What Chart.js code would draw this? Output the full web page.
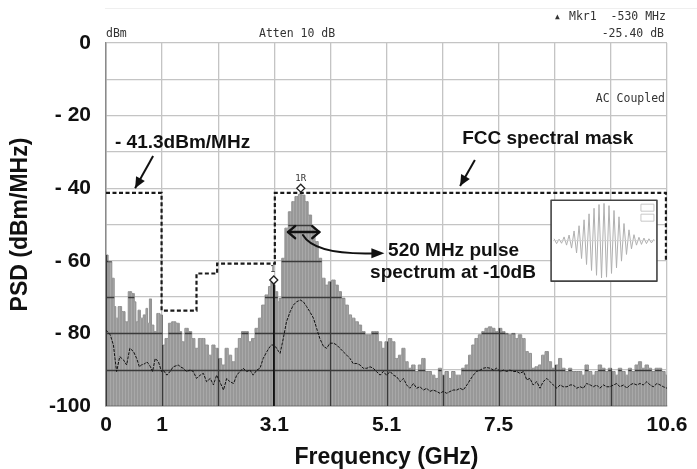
<!DOCTYPE html>
<html><head><meta charset="utf-8">
<script src="https://cdn.jsdelivr.net/npm/chart.js@4.4.1/dist/chart.umd.min.js"></script>
<style>html,body{margin:0;padding:0;background:#fff;}canvas{display:block;}</style>
</head><body>
<canvas id="c" width="697" height="469"></canvas>
<script>
// ---------- data ----------
const freqGHz = [
 0.00,0.08,0.14,0.17,0.20,0.26,0.33,0.39,0.45,0.52,0.55,0.58,0.63,0.67,0.74,0.77,0.80,0.84,0.88,0.93,
 0.99,1.05,1.08,1.15,1.21,1.27,1.37,1.40,1.46,1.52,1.59,1.65,1.71,1.78,1.84,1.90,1.97,2.03,2.09,2.15,
 2.22,2.28,2.34,2.41,2.47,2.53,2.59,
 2.66,2.72,2.78,2.85,2.91,2.97,3.04,3.10,3.13,3.16,3.23,3.26,3.29,3.35,3.41,3.48,3.54,3.60,3.67,3.73,
 3.79,3.85,3.92,3.98,4.04,4.11,4.17,4.23,4.30,4.36,4.42,4.48,4.55,4.61,4.67,4.74,4.80,4.86,4.93,4.99,
 5.05,5.11,5.18,5.24,
 5.30,5.37,5.43,5.49,5.56,5.62,5.68,5.74,5.81,5.87,5.93,6.00,6.06,6.12,6.18,6.25,6.31,6.37,6.44,6.50,
 6.56,6.63,6.69,6.75,6.82,6.88,6.94,7.00,7.07,7.13,7.19,7.26,7.32,7.38,7.45,7.51,7.57,7.63,7.70,7.76,
 7.82,7.89,
 7.95,8.01,8.07,8.14,8.20,8.26,8.33,8.39,8.45,8.52,8.58,8.64,8.71,8.77,8.83,8.89,8.96,9.02,9.08,9.15,
 9.21,9.27,9.33,9.40,9.46,9.52,9.59,9.65,9.71,9.78,9.84,9.90,9.96,10.03,10.09,10.15,10.22,10.28,10.34,10.41,
 10.47,10.53,10.60
];
const peakHold = [
 -58.4,-60.2,-64.8,-72.6,-75.8,-72.6,-74.0,-76.8,-68.5,-69.0,-71.3,-76.8,-73.6,-75.8,-74.9,-73.1,-77.2,-70.5,-77.7,-79.5,
 -74.5,-74.9,-83.2,-81.4,-77.2,-76.8,-77.2,-79.5,-82.3,-78.6,-79.5,-81.4,-84.1,-81.4,-81.4,-83.2,-86.0,-83.2,-84.1,-86.9,
 -88.7,-84.1,-86.0,-87.8,-84.1,-81.4,-79.5,
 -79.5,-82.3,-81.4,-78.6,-75.8,-72.2,-69.4,-67.1,-65.8,-66.7,-68.5,-71.3,-70.3,-59.3,-51.0,-46.5,-43.7,-42.3,-41.7,-41.9,
 -43.7,-47.4,-51.0,-54.7,-59.3,-64.8,-66.7,-65.8,-65.3,-66.7,-68.5,-70.3,-72.2,-74.9,-75.8,-76.8,-77.7,-79.5,-80.4,-80.4,
 -79.5,-79.5,-82.3,-84.1,
 -82.3,-81.4,-82.3,-86.9,-86.0,-84.1,-87.8,-89.6,-88.7,-90.5,-88.7,-86.9,-90.5,-90.5,-91.5,-92.4,-89.6,-91.5,-90.5,-92.4,
 -90.5,-91.5,-91.5,-89.6,-88.7,-86.0,-83.2,-81.4,-80.4,-79.5,-78.6,-78.2,-78.6,-79.5,-78.6,-79.5,-80.0,-80.4,-80.0,-81.4,
 -80.4,-81.4,
 -85.0,-85.5,-89.6,-89.2,-88.7,-86.0,-85.0,-87.8,-89.6,-88.7,-86.9,-89.6,-90.5,-89.6,-90.5,-90.5,-90.5,-91.5,-88.7,-90.5,
 -91.5,-90.5,-88.7,-89.6,-90.5,-89.6,-90.5,-91.5,-89.6,-90.5,-91.5,-89.6,-90.5,-88.7,-87.8,-89.6,-88.7,-89.6,-90.5,-89.6,
 -89.6,-90.5,-91.5
];
const averageTrace = [
 -79.1,-80.4,-83.2,-86.9,-90.5,-86.4,-87.3,-88.7,-84.1,-85.0,-86.0,-86.9,-89.2,-88.7,-88.3,-87.8,-88.3,-89.2,-90.5,-86.9,
 -87.8,-90.5,-90.1,-91.5,-90.5,-89.2,-88.7,-89.2,-89.6,-90.5,-90.1,-90.5,-92.4,-91.5,-91.0,-93.3,-92.4,-94.2,-91.5,-93.3,
 -95.6,-92.4,-93.3,-93.8,-91.5,-90.5,-89.6,
 -90.5,-90.1,-91.5,-90.1,-89.6,-86.9,-85.0,-83.6,-83.2,-83.2,-84.1,-85.0,-85.5,-81.4,-76.8,-74.0,-72.2,-71.3,-70.8,-71.3,
 -72.6,-74.0,-75.8,-78.6,-81.4,-83.6,-84.1,-82.7,-82.7,-83.2,-84.1,-85.0,-86.0,-86.9,-88.3,-88.3,-88.7,-89.6,-89.6,-89.2,
 -89.6,-90.5,-91.5,-90.5,
 -91.5,-90.5,-91.5,-91.9,-93.3,-92.4,-94.2,-95.1,-93.8,-95.1,-94.7,-95.6,-95.1,-96.0,-95.6,-96.0,-96.5,-96.0,-96.5,-96.0,
 -95.6,-95.6,-95.1,-95.6,-94.2,-92.8,-91.5,-90.5,-90.1,-89.6,-89.4,-89.6,-90.1,-89.6,-90.5,-90.1,-90.5,-90.1,-90.5,-90.5,
 -91.0,-90.5,
 -92.8,-92.4,-94.2,-93.3,-95.1,-93.3,-92.4,-93.3,-94.2,-95.1,-94.2,-94.7,-94.7,-94.2,-94.2,-95.1,-94.7,-95.1,-93.8,-94.2,
 -94.7,-94.2,-95.1,-94.2,-94.7,-94.7,-94.2,-93.8,-94.7,-94.2,-95.1,-94.2,-93.8,-94.2,-93.8,-94.2,-93.3,-94.2,-94.7,-93.8,
 -94.2,-94.7,-95.1
];
const maskFreq  = [0, 1.05, 1.71, 2.10, 3.19, 10.58];
const maskLevel = [-41.3, -73.7, -63.5, -60.8, -41.3, -60.2];
const markerFreq  = [3.68, 3.17];
const markerLevel = [-40.0, -65.3];
const markerNames = ['1R', '1'];
const xGridValues = [0, 1.06, 2.12, 3.18, 4.24, 5.30, 6.36, 7.42, 8.48, 9.54, 10.60];
const xTickLabels = ['0', '1', '', '3.1', '', '5.1', '', '7.5', '', '', '10.6'];
const yLabelValues = [0, -20, -40, -60, -80, -100];
const yLabelTexts  = ['0', '- 20', '- 40', '- 60', '- 80', '-100'];
// relative half-cycle amplitudes of the pulse in the inset picture
const insetPulse = [0.05,0.08,0.04,0.07,0.10,0.12,0.15,0.20,0.26,0.33,0.40,0.48,0.56,0.64,0.72,0.80,0.87,0.93,0.97,1.00,
 1.00,0.98,0.94,0.88,0.81,0.73,0.64,0.55,0.46,0.37,0.29,0.22,0.16,0.12,0.09,0.10,0.07,0.08,0.05,0.06,0.04];

// ---------- chart ----------
const canvas = document.getElementById('c');
const ctx0 = canvas.getContext('2d');
const pc = document.createElement('canvas'); pc.width = 3; pc.height = 4;
const pcx = pc.getContext('2d');
pcx.fillStyle = '#989898'; pcx.fillRect(0, 0, 3, 4);
pcx.fillStyle = '#a8a8a8'; pcx.fillRect(2, 0, 1, 4);
const greyPattern = ctx0.createPattern(pc, 'repeat');

const BOLD = '"Liberation Sans", Arial, sans-serif';
const MONO = '"DejaVu Sans Mono", "Liberation Mono", monospace';

const pts = (xs, ys) => xs.map((x, i) => ({x: x, y: ys[i]}));

function arrowHead(ctx, x1, y1, x2, y2, len, half) {
  const a = Math.atan2(y2 - y1, x2 - x1);
  ctx.beginPath();
  ctx.moveTo(x2, y2);
  ctx.lineTo(x2 - len * Math.cos(a) + half * Math.sin(a), y2 - len * Math.sin(a) - half * Math.cos(a));
  ctx.lineTo(x2 - len * Math.cos(a) - half * Math.sin(a), y2 - len * Math.sin(a) + half * Math.cos(a));
  ctx.closePath();
  ctx.fill();
}

const annotations = {
  id: 'annotations',
  afterDatasetDraw(chart, args) {
    if (args.index !== 0) return;
    const {ctx, chartArea: a, scales: {x, y}} = chart;
    const p = args.meta.data;
    ctx.save();
    ctx.beginPath();
    ctx.moveTo(p[0].x, a.bottom);
    ctx.lineTo(p[0].x, p[0].y);
    for (let i = 1; i < p.length; i++) {
      const m = (p[i - 1].x + p[i].x) / 2;
      ctx.lineTo(m, p[i - 1].y); ctx.lineTo(m, p[i].y); ctx.lineTo(p[i].x, p[i].y);
    }
    ctx.lineTo(p[p.length - 1].x, a.bottom);
    ctx.closePath();
    ctx.clip();
    ctx.strokeStyle = '#3a3a3a'; ctx.lineWidth = 1.3;
    x.ticks.forEach(t => {
      const px = Math.round(x.getPixelForValue(t.value)) + 0.5;
      ctx.beginPath(); ctx.moveTo(px, a.top); ctx.lineTo(px, a.bottom); ctx.stroke();
    });
    y.ticks.forEach(t => {
      const py = Math.round(y.getPixelForValue(t.value)) + 0.5;
      ctx.beginPath(); ctx.moveTo(a.left, py); ctx.lineTo(a.right, py); ctx.stroke();
    });
    ctx.restore();
  },
  afterDatasetsDraw(chart) {
    const {ctx, chartArea: a, scales: {x, y}} = chart;
    const X = v => x.getPixelForValue(v), Y = v => y.getPixelForValue(v);
    ctx.save();
    // marker names
    ctx.fillStyle = '#333'; ctx.font = '9px ' + MONO; ctx.textAlign = 'center'; ctx.textBaseline = 'middle';
    markerNames.forEach((n, i) => ctx.fillText(n, X(markerFreq[i]) - (i ? 1 : 0), Y(markerLevel[i]) - 10));

    // big bold annotation text
    ctx.fillStyle = '#111'; ctx.font = 'bold 19px ' + BOLD; ctx.textAlign = 'left';
    ctx.fillText('- 41.3dBm/MHz', X(0.17), Y(-27.5));
    ctx.fillText('FCC spectral mask', X(6.73), Y(-26.3));
    ctx.fillText('520 MHz pulse', X(5.33), Y(-57.2));
    ctx.fillText('spectrum at -10dB', X(4.99), Y(-63.4));

    // straight arrows
    ctx.strokeStyle = '#111'; ctx.lineWidth = 2;
    [[0.89, -31.1, 0.55, -40.0], [6.97, -32.2, 6.69, -39.4]].forEach(([f1, v1, f2, v2]) => {
      const x1 = X(f1), y1 = Y(v1), x2 = X(f2), y2 = Y(v2);
      ctx.beginPath(); ctx.moveTo(x1, y1); ctx.lineTo(x2, y2); ctx.stroke();
      arrowHead(ctx, x1, y1, x2, y2, 11, 5);
    });

    // double-headed bandwidth arrow
    const bx1 = X(3.44), bx2 = X(4.03), by = Y(-52.1);
    ctx.lineWidth = 2.5; ctx.lineCap = 'round'; ctx.lineJoin = 'round';
    ctx.beginPath(); ctx.moveTo(bx1, by); ctx.lineTo(bx2, by); ctx.stroke();
    ctx.beginPath(); ctx.moveTo(bx1 + 7, by - 6); ctx.lineTo(bx1, by); ctx.lineTo(bx1 + 7, by + 6); ctx.stroke();
    ctx.beginPath(); ctx.moveTo(bx2 - 7, by - 6); ctx.lineTo(bx2, by); ctx.lineTo(bx2 - 7, by + 6); ctx.stroke();

    // curved arrow to the text
    const c0x = X(3.72), c0y = Y(-52.9), ccx = X(3.95), ccy = Y(-58.6), c1x = X(5.26), c1y = Y(-57.9);
    ctx.lineWidth = 2;
    ctx.beginPath(); ctx.moveTo(c0x, c0y); ctx.quadraticCurveTo(ccx, ccy, c1x - 6, c1y); ctx.stroke();
    arrowHead(ctx, c1x - 20, c1y, c1x, c1y, 13, 5);

    // inset with the pulse
    const ix1 = X(8.41), ix2 = X(10.41), iy1 = Y(-43.3), iy2 = Y(-65.6);
    ctx.fillStyle = '#fff'; ctx.fillRect(ix1, iy1, ix2 - ix1, iy2 - iy1);
    ctx.strokeStyle = '#444'; ctx.lineWidth = 1.6; ctx.lineCap = 'butt';
    ctx.strokeRect(ix1, iy1, ix2 - ix1, iy2 - iy1);
    const cy = (iy1 + iy2) / 2, amp = (iy2 - iy1) * 0.46;
    const sx = ix1 + 3, step = (ix2 - ix1 - 6) / (insetPulse.length - 1);
    ctx.strokeStyle = '#b0b0b0'; ctx.lineWidth = 1;
    ctx.beginPath();
    insetPulse.forEach((p, i) => {
      const px = sx + i * step, py = cy + (i % 2 ? 1 : -1) * p * amp;
      if (i === 0) ctx.moveTo(px, py); else ctx.lineTo(px, py);
    });
    ctx.stroke();
    ctx.strokeStyle = '#d0d0d0'; ctx.beginPath(); ctx.moveTo(ix1 + 2, cy); ctx.lineTo(ix2 - 2, cy); ctx.stroke();
    ctx.strokeStyle = '#bbb'; ctx.lineWidth = 0.8;
    ctx.strokeRect(ix2 - 16, iy1 + 4, 13, 7);
    ctx.strokeRect(ix2 - 16, iy1 + 14, 13, 7);

    // instrument screen texts
    ctx.fillStyle = '#333'; ctx.font = '11.5px ' + MONO; ctx.textBaseline = 'middle';
    ctx.textAlign = 'left';
    ctx.fillText('dBm', a.left, a.top - 9);
    ctx.fillText('Atten 10 dB', a.left + 153, a.top - 9);
    ctx.fillText('Mkr1  -530 MHz', a.right - 98, a.top - 26);
    ctx.font = '8px ' + MONO; ctx.fillText('\u25B2', a.right - 112, a.top - 26);
    ctx.font = '11.5px ' + MONO; ctx.textAlign = 'right';
    ctx.fillText('-25.40 dB', a.right - 3, a.top - 9);
    ctx.fillText('AC Coupled', a.right - 2, a.top + 56);
    ctx.strokeStyle = '#efefef'; ctx.lineWidth = 1;
    ctx.beginPath(); ctx.moveTo(a.left - 1, 8.5); ctx.lineTo(chart.width, 8.5); ctx.stroke();
    ctx.restore();
  }
};

new Chart(canvas, {
  type: 'line',
  data: {
    datasets: [
      { label: 'Peak', data: pts(freqGHz, peakHold), order: 4, stepped: 'middle',
        borderColor: '#929292', borderWidth: 1, backgroundColor: greyPattern, fill: 'start', pointRadius: 0 },
      { label: 'Average', data: pts(freqGHz, averageTrace), order: 3,
        borderColor: '#111', borderWidth: 1, borderDash: [3, 1.2], fill: false, pointRadius: 0 },
      { label: 'FCC mask', data: pts(maskFreq, maskLevel), order: 2, stepped: 'before',
        borderColor: '#1a1a1a', borderWidth: 2.2, borderDash: [4, 2.5], fill: false, pointRadius: 0 },
      { label: 'Marker line', data: [{x: markerFreq[1], y: markerLevel[1] - 1}, {x: markerFreq[1], y: -100}], order: 1,
        borderColor: '#111', borderWidth: 1.6, fill: false, pointRadius: 0 },
      { label: 'Markers', data: pts(markerFreq, markerLevel), order: 0, showLine: false,
        pointStyle: 'rectRot', pointRadius: 4, pointBackgroundColor: '#fff', pointBorderColor: '#222', pointBorderWidth: 1.3 }
    ]
  },
  options: {
    responsive: false, animation: false,
    layout: { padding: { top: 43, right: 30, left: 0, bottom: 0 } },
    plugins: { legend: { display: false }, tooltip: { enabled: false } },
    scales: {
      x: {
        type: 'linear', min: 0, max: 10.6,
        afterBuildTicks: s => { s.ticks = xGridValues.map(v => ({value: v})); },
        afterFit: s => { s.height = 63; },
        grid: { color: '#c4c4c4', lineWidth: 1.3, drawTicks: false },
        border: { display: true, color: '#8a8a8a', width: 1.5 },
        ticks: { autoSkip: false, maxRotation: 0, padding: 7, color: '#111',
                 font: { family: BOLD, size: 21, weight: 'bold' },
                 callback: (v, i) => xTickLabels[i] },
        title: { display: true, text: 'Frequency (GHz)', color: '#111',
                 font: { family: BOLD, size: 23, weight: 'bold', lineHeight: 1 }, padding: 0 }
      },
      y: {
        min: -100, max: 0,
        afterFit: s => { s.width = 106; },
        grid: { color: '#c4c4c4', lineWidth: 1.3, drawTicks: false },
        border: { display: true, color: '#8a8a8a', width: 1.5 },
        ticks: { stepSize: 10, autoSkip: false, padding: 15, color: '#111',
                 font: { family: BOLD, size: 21, weight: 'bold' },
                 callback: v => { const i = yLabelValues.indexOf(v); return i >= 0 ? yLabelTexts[i] : ''; } },
        title: { display: true, text: 'PSD (dBm/MHz)', color: '#111',
                 font: { family: BOLD, size: 23, weight: 'bold', lineHeight: 1 }, padding: { top: 9, bottom: 0 } }
      }
    }
  },
  plugins: [annotations]
});
</script>
</body></html>
